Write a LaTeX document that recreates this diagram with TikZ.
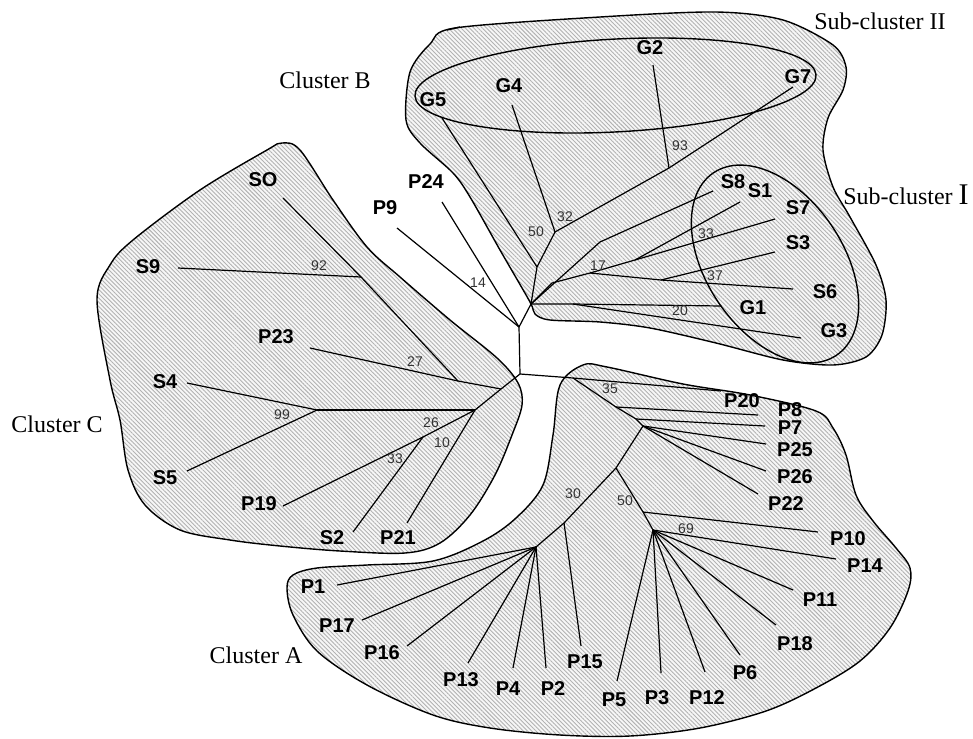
\documentclass[tikz,border=0pt]{standalone}
\usepackage{fontspec}
\setmainfont{Liberation Serif}
\setsansfont{Liberation Sans}
\usetikzlibrary{patterns.meta}

\begin{document}
\begin{tikzpicture}[x=0.5pt,y=-0.5pt,
  leaf/.style={font=\sffamily\bfseries\fontsize{10}{10}\selectfont,inner sep=0pt},
  boot/.style={font=\sffamily\fontsize{7}{7}\selectfont,text=black!80,inner sep=0pt},
  clus/.style={font=\rmfamily\fontsize{12}{12}\selectfont,inner sep=0pt},
  br/.style={line width=0.6pt},
  hull/.style={draw,line width=0.7pt,preaction={fill=gray!6},
    pattern={Lines[angle=-45,distance=1.5pt,line width=0.45pt]},pattern color=gray!60},
  ring/.style={line width=0.7pt}]
\useasboundingbox (0,0) rectangle (973,738);

% hatched clusters
\draw[hull] plot[smooth cycle,tension=0.55] coordinates {(97,300) (110,265) (133,240) (200,190) (267,150) (282,143) (300,150) (333,200) (367,247) (400,277) (450,320) (497,358) (518,383) (522,405) (512,435) (495,475) (470,515) (440,543) (405,553) (340,551) (280,546) (230,540) (180,530) (145,505) (128,470) (120,420) (110,380)};
\draw[hull] plot[smooth cycle,tension=0.5] coordinates {(455,28) (600,17) (716,12) (783,20) (833,45) (846,67) (843,90) (828,118) (823,150) (833,187) (850,217) (876,265) (886,300) (882,335) (866,357) (833,365) (783,360) (716,343) (650,328) (600,322) (550,320) (535,314) (530,302) (500,250) (470,197) (453,173) (420,143) (406,120) (410,72) (430,44)};
\draw[ring] (447,30) -- (460,27);
\draw[hull] plot[smooth cycle,tension=0.55] coordinates {(583,365) (607,367) (683,384) (750,395) (816,411) (833,428) (846,455) (856,495) (873,521) (896,548) (910,568) (908,591) (890,628) (860,661) (816,688) (766,711) (700,728) (630,736) (560,735) (490,728) (433,715) (367,685) (317,651) (293,615) (287,588) (293,575) (317,568) (367,565) (433,561) (483,541) (516,518) (543,485) (553,435) (560,385)};

% sub-clusters
\coordinate (e2) at (615.5,85.5);
\coordinate (e1) at (775,264);
\draw[ring,rotate around={3:(e2)}] (e2) ellipse [x radius=100.4pt,y radius=23.2pt];
\draw[ring,rotate around={-56:(e1)}] (e1) ellipse [x radius=55pt,y radius=34.2pt];

% inner nodes
\coordinate (r1) at (519,327);
\coordinate (r2) at (520,374);
\coordinate (bB) at (531,304);
\coordinate (n50) at (537,267);
\coordinate (n32) at (555,232);
\coordinate (n93) at (669,168);
\coordinate (nS8) at (600,242);
\coordinate (nS) at (552,283);
\coordinate (n17) at (590,273);
\coordinate (n33) at (635,260);
\coordinate (n37) at (661,280);
\coordinate (nG3) at (573,304);
\coordinate (n23) at (501,389);
\coordinate (n27) at (458,381);
\coordinate (n92) at (361,277);
\coordinate (cC) at (475,410);
\coordinate (n99) at (317,410);
\coordinate (n26) at (423,437);
\coordinate (nA0) at (573,378);
\coordinate (n35) at (616,407);
\coordinate (nP7) at (636,419);
\coordinate (nA1) at (643,426);
\coordinate (n50b) at (616,468);
\coordinate (n15) at (564,523);
\coordinate (n30) at (536,547);
\coordinate (n10) at (643,512);
\coordinate (n69) at (653,530);

% leaf tips
\coordinate (tG5) at (442,118);
\coordinate (tG4) at (512,105);
\coordinate (tG2) at (653,65);
\coordinate (tG7) at (793,87);
\coordinate (tS8) at (713,191);
\coordinate (tS1) at (740,202);
\coordinate (tS7) at (775,219);
\coordinate (tS3) at (775,252);
\coordinate (tS6) at (793,289);
\coordinate (tG1) at (721,306);
\coordinate (tG3) at (801,338);
\coordinate (tSO) at (283,198);
\coordinate (tS9) at (178,268);
\coordinate (tP23) at (310,348);
\coordinate (tS4) at (187,383);
\coordinate (tS5) at (187,471);
\coordinate (tP19) at (283,506);
\coordinate (tS2) at (353,532);
\coordinate (tP21) at (407,523);
\coordinate (tP9) at (397,228);
\coordinate (tP24) at (442,202);
\coordinate (tP20) at (721,391);
\coordinate (tP8) at (758,415);
\coordinate (tP7) at (765,426);
\coordinate (tP25) at (766,444);
\coordinate (tP26) at (766,471);
\coordinate (tP22) at (758,494);
\coordinate (tP10) at (818,532);
\coordinate (tP14) at (836,559);
\coordinate (tP11) at (793,590);
\coordinate (tP18) at (776,625);
\coordinate (tP6) at (740,655);
\coordinate (tP12) at (705,672);
\coordinate (tP3) at (661,673);
\coordinate (tP5) at (617,681);
\coordinate (tP15) at (581,646);
\coordinate (tP2) at (546,668);
\coordinate (tP4) at (513,668);
\coordinate (tP13) at (468,663);
\coordinate (tP16) at (407,646);
\coordinate (tP17) at (362,620);
\coordinate (tP1) at (337,585);

% branches
\draw[br] (r1) -- (r2);
\draw[br] (tP9) -- (r1);
\draw[br] (tP24) -- (r1);
\draw[br] (r1) -- (bB) -- (n50) -- (n32) -- (n93) -- (tG7);
\draw[br] (tG5) -- (n50);
\draw[br] (tG4) -- (n32);
\draw[br] (tG2) -- (n93);
\draw[br] (bB) -- (nS8) -- (tS8);
\draw[br] (bB) -- (nS) -- (n17) -- (n33) -- (tS7);
\draw[br] (tS1) -- (n33);
\draw[br] (n17) -- (n37) -- (tS6);
\draw[br] (tS3) -- (n37);
\draw[br] (bB) -- (nG3) -- (tG1);
\draw[br] (nG3) -- (tG3);
\draw[br] (r2) -- (n23) -- (cC);
\draw[br] (tP23) -- (n27) -- (n23);
\draw[br] (tSO) -- (n92) -- (n27);
\draw[br] (tS9) -- (n92);
\draw[br] (tS4) -- (n99);
\draw[br] (tS5) -- (n99);
\draw[br] (n99) -- (cC);
\draw[br] (cC) -- (n26);
\draw[br] (tP19) -- (n26);
\draw[br] (tS2) -- (n26);
\draw[br] (tP21) -- (cC);
\draw[br] (r2) -- (nA0) -- (tP20);
\draw[br] (nA0) -- (n35) -- (nP7) -- (nA1);
\draw[br] (n35) -- (tP8);
\draw[br] (nP7) -- (tP7);
\draw[br] (nA1) -- (tP25);
\draw[br] (nA1) -- (tP26);
\draw[br] (nA1) -- (tP22);
\draw[br] (nA1) -- (n50b) -- (n15) -- (n30);
\draw[br] (n15) -- (tP15);
\draw[br] (n50b) -- (n10) -- (n69);
\draw[br] (n10) -- (tP10);
\draw[br] (n69) -- (tP14);
\draw[br] (n69) -- (tP11);
\draw[br] (n69) -- (tP18);
\draw[br] (n69) -- (tP6);
\draw[br] (n69) -- (tP12);
\draw[br] (n69) -- (tP3);
\draw[br] (n69) -- (tP5);
\draw[br] (n30) -- (tP1);
\draw[br] (n30) -- (tP17);
\draw[br] (n30) -- (tP16);
\draw[br] (n30) -- (tP13);
\draw[br] (n30) -- (tP4);
\draw[br] (n30) -- (tP2);

% support values
\node[boot] (b14) at (478,283) {14};
\node[boot] (b50) at (536,232) {50};
\node[boot] (b32) at (565,217) {32};
\node[boot] (b93) at (680,146) {93};
\node[boot] (b17) at (598,266) {17};
\node[boot] (b33) at (706,234) {33};
\node[boot] (b37) at (715,276) {37};
\node[boot] (b20) at (680,311) {20};
\node[boot] (b92) at (319,266) {92};
\node[boot] (b27) at (415,362) {27};
\node[boot] (b99) at (282,415) {99};
\node[boot] (b26) at (431,423) {26};
\node[boot] (b10) at (442,443) {10};
\node[boot] (b33c) at (395,459) {33};
\node[boot] (b35) at (610,389) {35};
\node[boot] (b30) at (573,494) {30};
\node[boot] (b50a) at (625,501) {50};
\node[boot] (b69) at (686,529) {69};

% leaves
\node[leaf] (G5) at (433,100) {G5};
\node[leaf] (G4) at (509,86) {G4};
\node[leaf] (G2) at (650,48) {G2};
\node[leaf] (G7) at (798,77) {G7};
\node[leaf] (S8) at (733,182) {S8};
\node[leaf] (S1) at (760,191) {S1};
\node[leaf] (S7) at (798,208) {S7};
\node[leaf] (S3) at (798,243) {S3};
\node[leaf] (S6) at (825,292) {S6};
\node[leaf] (G1) at (753,308) {G1};
\node[leaf] (G3) at (834,331) {G3};
\node[leaf] (SO) at (263,180) {SO};
\node[leaf] (S9) at (148,267) {S9};
\node[leaf] (P23) at (276,337) {P23};
\node[leaf] (S4) at (165,382) {S4};
\node[leaf] (S5) at (165,478) {S5};
\node[leaf] (P19) at (259,504) {P19};
\node[leaf] (S2) at (332,538) {S2};
\node[leaf] (P21) at (398,538) {P21};
\node[leaf] (P9) at (385,208) {P9};
\node[leaf] (P24) at (426,182) {P24};
\node[leaf] (P20) at (742,401) {P20};
\node[leaf] (P8) at (790,410) {P8};
\node[leaf] (P7) at (790,428) {P7};
\node[leaf] (P25) at (795,450) {P25};
\node[leaf] (P26) at (795,477) {P26};
\node[leaf] (P22) at (786,504) {P22};
\node[leaf] (P10) at (848,539) {P10};
\node[leaf] (P14) at (865,566) {P14};
\node[leaf] (P11) at (820,600) {P11};
\node[leaf] (P18) at (795,644) {P18};
\node[leaf] (P6) at (745,673) {P6};
\node[leaf] (P12) at (707,698) {P12};
\node[leaf] (P3) at (657,698) {P3};
\node[leaf] (P5) at (614,700) {P5};
\node[leaf] (P15) at (585,662) {P15};
\node[leaf] (P2) at (553,689) {P2};
\node[leaf] (P4) at (508,689) {P4};
\node[leaf] (P13) at (461,680) {P13};
\node[leaf] (P16) at (382,653) {P16};
\node[leaf] (P17) at (337,626) {P17};
\node[leaf] (P1) at (313,587) {P1};

% cluster names
\node[clus] (subII) at (880,21) {Sub-cluster II};
\node[clus] (subI) at (906,195) {Sub-cluster {\fontsize{15}{15}\selectfont I}};
\node[clus] (clB) at (325,80) {Cluster B};
\node[clus] (clC) at (57,424) {Cluster C};
\node[clus] (clA) at (256,655) {Cluster A};
\end{tikzpicture}
\end{document}
